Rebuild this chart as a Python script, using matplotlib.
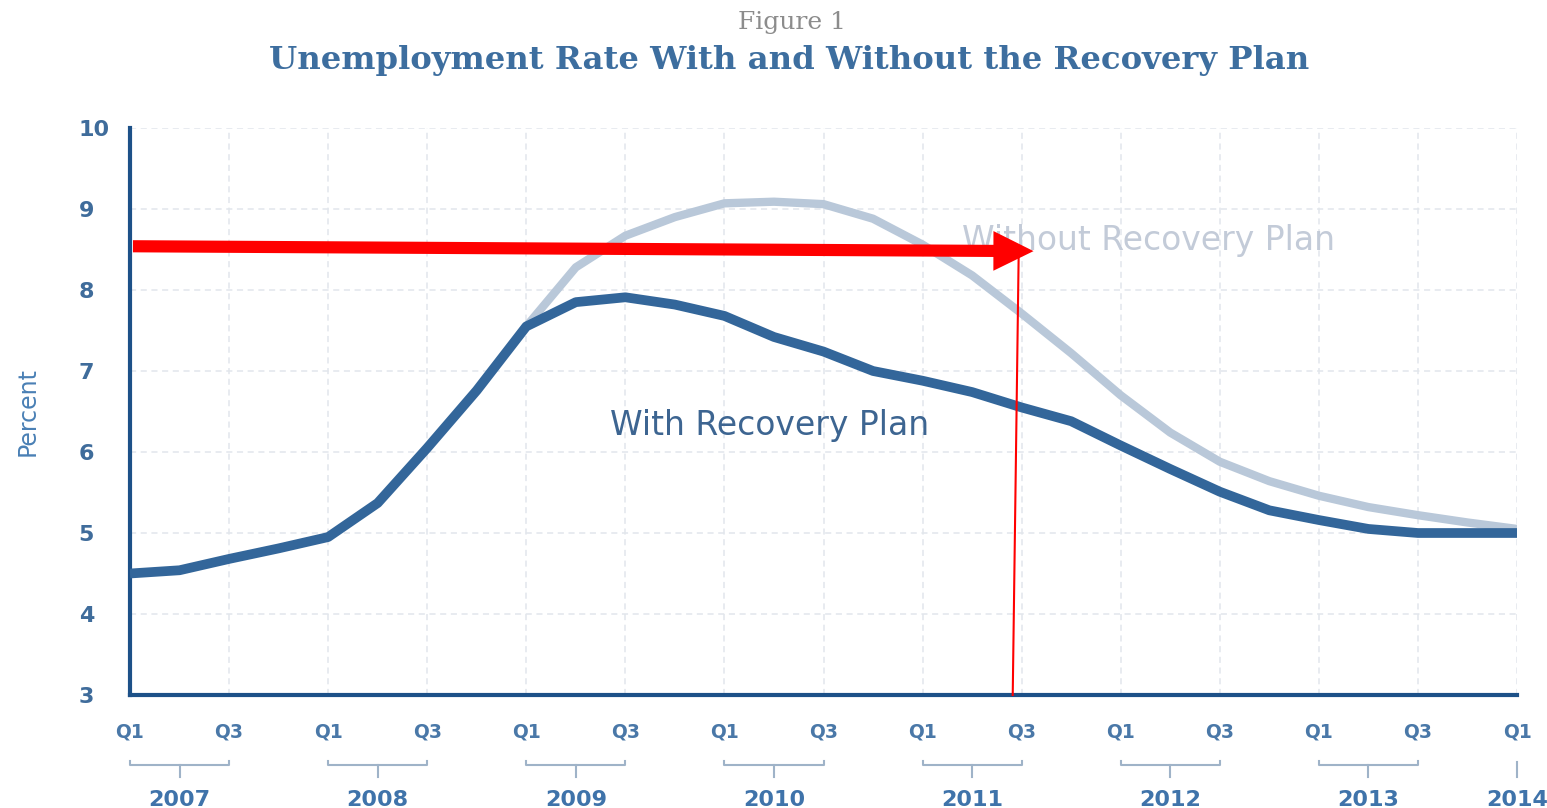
import matplotlib.pyplot as plt
import numpy as np

# unemployment rate (percent), quarterly from 2007 Q1 to 2014 Q1
with_plan = [4.50, 4.54, 4.68, 4.81, 4.95, 5.37, 6.05, 6.76, 7.55, 7.85,
             7.91, 7.82, 7.68, 7.42, 7.24, 7.00, 6.88, 6.74, 6.55, 6.38,
             6.08, 5.79, 5.51, 5.28, 5.16, 5.05, 5.00, 5.00, 5.00]
# without plan starts where the two curves split (2009 Q1)
without_start = 8
without_plan = [7.55, 8.28, 8.67, 8.90, 9.07, 9.09, 9.06, 8.88, 8.56, 8.18,
                7.71, 7.22, 6.70, 6.24, 5.88, 5.64, 5.46, 5.32, 5.22, 5.13,
                5.05]

years = ['2007', '2008', '2009', '2010', '2011', '2012', '2013', '2014']
quarter_labels = ['Q1', 'Q3'] * 7 + ['Q1']
y_ticks = [3, 4, 5, 6, 7, 8, 9, 10]

# red annotation drawn over the chart: arrow and vertical marker
arrow_start = (0.06, 8.54)
arrow_end = (18.24, 8.48)
marker_line_x = [17.82, 17.94]
marker_line_y = [3.0, 8.44]

dark_blue = '#1d5188'
line_blue = '#33669a'
light_line = '#b9c8d9'
tick_blue = '#3f6c9b'
grid_col = '#e2e6ec'

W, H = 1547, 808
fig = plt.figure(figsize=(W / 100, H / 100), dpi=100)
ax = fig.add_axes([130 / W, 113 / H, 1387 / W, 567 / H])

q_all = np.arange(len(with_plan))
q_without = np.arange(without_start, without_start + len(without_plan))

ax.plot(q_without, without_plan, color=light_line, lw=6, solid_capstyle='butt',
        solid_joinstyle='round', zorder=3)
ax.plot(q_all, with_plan, color=line_blue, lw=7, solid_capstyle='butt',
        solid_joinstyle='round', zorder=4)

ax.set_xlim(0, 28)
ax.set_ylim(3, 10)

ax.set_xticks(np.arange(0, 29, 2))
ax.set_xticklabels(quarter_labels)
ax.set_yticks(y_ticks)
ax.set_yticklabels([str(v) for v in y_ticks])

ax.grid(True, color=grid_col, lw=1.1, ls=(0, (4, 3)), zorder=0)
ax.set_axisbelow(True)

for s in ['top', 'right']:
    ax.spines[s].set_visible(False)
ax.spines['left'].set_color(dark_blue)
ax.spines['bottom'].set_color(dark_blue)
ax.spines['left'].set_linewidth(3)
ax.spines['bottom'].set_linewidth(3)

ax.tick_params(axis='both', length=0)
ax.tick_params(axis='x', pad=20, labelsize=13.5, labelcolor='#4a78a8')
ax.tick_params(axis='y', pad=37, labelsize=16, labelcolor=tick_blue)
for lab in ax.get_xticklabels():
    lab.set_fontweight('bold')
for lab in ax.get_yticklabels():
    lab.set_fontweight('bold')
    lab.set_horizontalalignment('left')

# year brackets under the quarter labels
tr = ax.get_xaxis_transform()
br_col = '#9fb3c8'
for i, yr in enumerate(years):
    q0 = 4 * i
    if i < len(years) - 1:
        ax.plot([q0, q0, q0 + 2, q0 + 2], [-0.116, -0.1235, -0.1235, -0.116],
                transform=tr, color=br_col, lw=1.5, clip_on=False)
        ax.plot([q0 + 1, q0 + 1], [-0.1235, -0.145], transform=tr,
                color=br_col, lw=1.5, clip_on=False)
        xc = q0 + 1
    else:
        ax.plot([q0, q0], [-0.118, -0.145], transform=tr, color=br_col,
                lw=1.5, clip_on=False)
        xc = q0
    ax.text(xc, -0.167, yr, transform=tr, ha='center', va='top',
            fontsize=16, fontweight='bold', color='#3f73aa', clip_on=False)

# series labels
ax.text(12.92, 6.21, 'With Recovery Plan', ha='center', va='baseline',
        fontsize=23.8, color='#3d6591', zorder=6)
ax.text(20.57, 8.49, 'Without Recovery Plan', ha='center', va='baseline',
        fontsize=23.8, color='#c3cbd8', zorder=2)

fig.text(28 / W, 1 - 411 / H, 'Percent', rotation=90, ha='center',
         va='center', fontsize=17, color='#4a80b5')

# titles
fig.text(792 / W, 1 - 22 / H, 'Figure 1', ha='center', va='center',
         fontsize=18, color='#8c8c8c', family='DejaVu Serif')
fig.text(789 / W, 1 - 60 / H,
         'Unemployment Rate With and Without the Recovery Plan',
         ha='center', va='center', fontsize=23.2, fontweight='bold',
         color='#3d6e9f', family='DejaVu Serif')

# red annotation
ax.arrow(arrow_start[0], arrow_start[1],
         arrow_end[0] - arrow_start[0], arrow_end[1] - arrow_start[1],
         width=0.15, head_width=0.49, head_length=0.81,
         length_includes_head=True, color='red', lw=0, zorder=7)
ax.plot(marker_line_x, marker_line_y, color='red', lw=1.5, zorder=7,
        clip_on=False)

fig.savefig('out.png', dpi=100)
